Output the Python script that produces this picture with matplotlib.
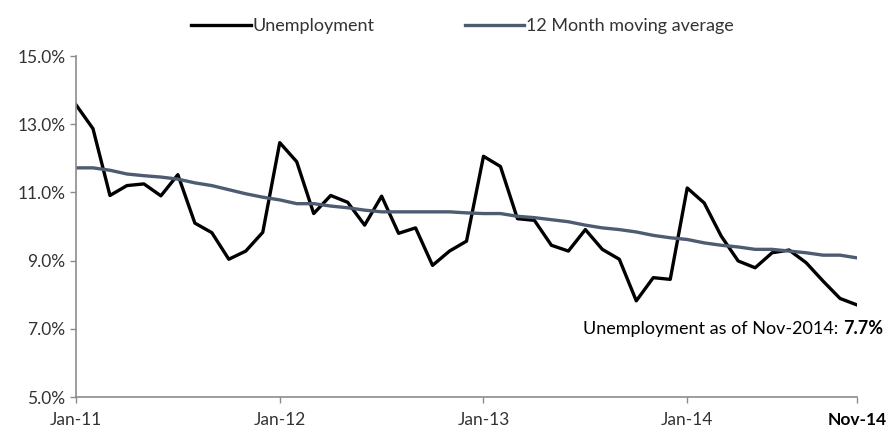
import numpy as np
import matplotlib
matplotlib.use("Agg")
import matplotlib.pyplot as plt

# monthly rate, Jan-2011 .. Nov-2014 (percent)
unemployment = [13.57, 12.87, 10.91, 11.20, 11.25, 10.90, 11.52, 10.10, 9.82, 9.04, 9.28, 9.83,
                12.46, 11.90, 10.38, 10.91, 10.71, 10.04, 10.89, 9.80, 9.96, 8.86, 9.28, 9.57,
                12.06, 11.76, 10.23, 10.18, 9.45, 9.28, 9.91, 9.33, 9.04, 7.82, 8.50, 8.45,
                11.13, 10.69, 9.72, 8.99, 8.79, 9.23, 9.31, 8.94, 8.40, 7.89, 7.70]
moving_avg = [11.72, 11.72, 11.65, 11.54, 11.49, 11.45, 11.39, 11.28, 11.20, 11.08, 10.96, 10.86,
              10.78, 10.67, 10.67, 10.60, 10.55, 10.48, 10.43, 10.43, 10.43, 10.43, 10.43, 10.40,
              10.38, 10.38, 10.30, 10.26, 10.20, 10.14, 10.04, 9.96, 9.91, 9.84, 9.74, 9.67,
              9.62, 9.52, 9.45, 9.40, 9.33, 9.33, 9.28, 9.23, 9.16, 9.16, 9.08]
tick_pos = [0, 12, 24, 36, 46]
tick_labels = ["Jan-11", "Jan-12", "Jan-13", "Jan-14", "Nov-14"]
y_ticks = [5, 7, 9, 11, 13, 15]

plt.rcParams['font.family'] = ['Lato', 'DejaVu Sans']
grey = "#8c8c8c"
text_col = "#333333"
fs = 12.5

fig = plt.figure(figsize=(8.93, 4.4), dpi=100)
ax = fig.add_axes([0.0851, 0.0977, 0.8746, 0.775])

x = np.arange(len(unemployment))
ax.plot(x, unemployment, color="black", lw=2.4, label="Unemployment")
ax.plot(x, moving_avg, color="#4d5c70", lw=2.4, label="12 Month moving average")

ax.set_xlim(0, 46)
ax.set_ylim(5, 15)
ax.set_yticks(y_ticks)
ax.set_yticklabels(["%.1f%%" % v for v in y_ticks])
ax.set_xticks(tick_pos)
ax.set_xticklabels(tick_labels)

for side in ["top", "right"]:
    ax.spines[side].set_visible(False)
for side in ["left", "bottom"]:
    ax.spines[side].set_color(grey)
    ax.spines[side].set_linewidth(1.2)
ax.tick_params(axis="both", colors=grey, labelcolor=text_col, labelsize=fs, length=4, width=1.0)
ax.tick_params(axis="x", pad=7)
ax.get_xticklabels()[-1].set_fontweight("bold")
ax.get_xticklabels()[-1].set_color("black")

leg = fig.legend(loc="center", bbox_to_anchor=(0.518, 0.94), ncol=2, frameon=False,
                 fontsize=fs + 0.5, handlelength=3.3, handletextpad=0.1, columnspacing=5.0)
for t in leg.get_texts():
    t.set_color(text_col)

# latest value note, bold figure at the right end
val = ax.text(1.033, 7.0, "%.1f%%" % unemployment[-1], ha="right", va="center",
              transform=ax.get_yaxis_transform(), fontsize=fs + 0.5, fontweight="bold",
              color="black")
ax.annotate("Unemployment as of Nov-2014: ", xy=(0, 0.5), xycoords=val, ha="right", va="center",
            fontsize=fs + 0.5, color="black")

fig.savefig("out.png", dpi=100)
